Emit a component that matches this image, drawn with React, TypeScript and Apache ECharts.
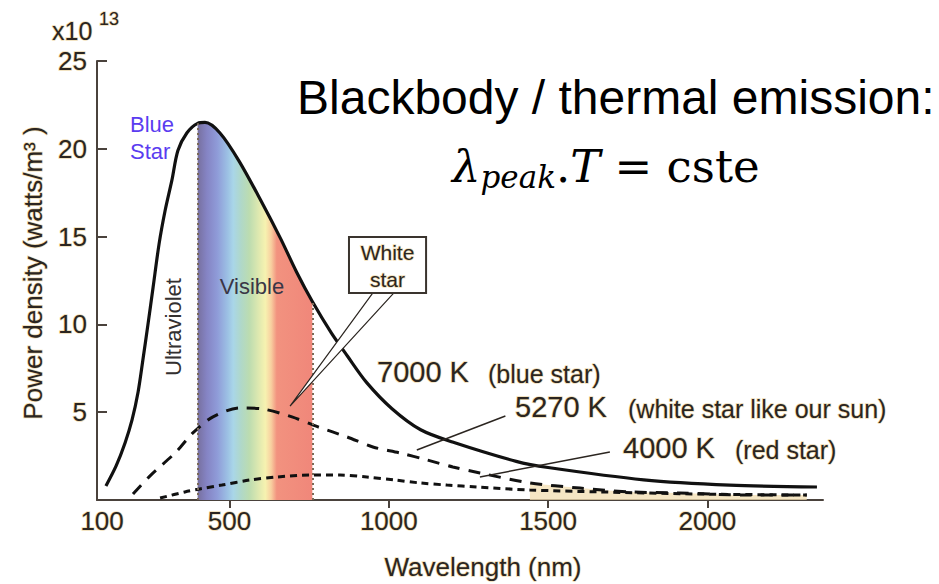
import React, { useEffect, useRef } from "react";
import * as echarts from "echarts";

// Planck-type emission curves, power density in units of 1e13 W/m^3
const wl7000 = [112, 144, 172, 194, 213, 228, 244, 260, 279, 298, 319, 338, 366, 400, 423, 470, 530, 600, 660, 710, 760, 820, 870, 930, 1010, 1100, 1200, 1400, 1500, 1800, 2070, 2344];
const pd7000 = [0.8, 1.94, 3.25, 4.56, 6.15, 7.97, 10.0, 12.1, 14.6, 16.5, 18.2, 19.9, 20.9, 21.45, 21.5, 20.9, 19.3, 17.0, 14.9, 13.0, 11.3, 9.5, 8.2, 6.7, 5.2, 4.0, 3.3, 2.2, 1.85, 1.15, 0.85, 0.74];

const wl5270 = [197, 253, 332, 385, 448, 533, 605, 696, 778, 869, 950, 1035, 1120, 1201, 1286, 1443, 1600, 1757, 1914, 2124, 2312];
const pd5270 = [0.34, 1.42, 2.73, 3.82, 4.73, 5.24, 5.18, 4.73, 4.16, 3.59, 3.02, 2.68, 2.28, 1.88, 1.54, 0.97, 0.68, 0.46, 0.4, 0.28, 0.28];

const wl4000 = [282, 360, 407, 476, 564, 649, 752, 847, 931, 1019, 1098, 1183, 1277, 1443, 1663, 1977, 2312];
const pd4000 = [0.11, 0.46, 0.63, 0.85, 1.14, 1.31, 1.42, 1.42, 1.31, 1.14, 0.97, 0.85, 0.74, 0.57, 0.46, 0.34, 0.28];

// visible band limits (nm)
const visibleRange = [400, 760];
// long-wavelength tail where the curves crowd together
const tailStart = 1443;

const xTickValues = [500, 1000, 1500, 2000];
const xLabelValues = [100, 500, 1000, 1500, 2000];
const yTickValues = [5, 10, 15, 20, 25];

const zip = (xs: number[], ys: number[]) => xs.map((x, i) => [x, ys[i]]);

const INK = "#2b2520";
const HALO = "rgba(236,214,166,0.85)";
const SANS = "'Liberation Sans', Arial, sans-serif";
const SERIF = "'DejaVu Serif', serif";

export default function App() {
  const ref = useRef<HTMLDivElement>(null);

  useEffect(() => {
    if (!ref.current) return;
    const chart = echarts.init(ref.current, null, { renderer: "svg" });

    const spectrum = zip(wl7000, pd7000).filter(
      (p) => p[0] >= visibleRange[0] && p[0] <= visibleRange[1]
    );
    const tail = zip(wl5270, pd5270).filter((p) => p[0] >= tailStart);
    const edgeTop = (nm: number) => pd7000[wl7000.indexOf(nm)];

    const axisLabelStyle = {
      color: INK,
      fontFamily: SANS,
      fontSize: 26,
      textBorderColor: HALO,
      textBorderWidth: 1.5,
      formatter: (v: number) => String(v),
    };

    const curve = {
      type: "line",
      smooth: 0.3,
      symbol: "none",
      z: 3,
    };

    chart.setOption({
      animation: false,
      backgroundColor: "#ffffff",
      grid: { left: 97, right: 116, top: 61, bottom: 84 },
      xAxis: {
        type: "value",
        min: 84,
        max: 2363,
        axisLine: { show: true, lineStyle: { color: "#4a423c", width: 2 } },
        axisTick: {
          show: true,
          customValues: xTickValues,
          length: 8,
          lineStyle: { color: "#4a423c", width: 2 },
        },
        axisLabel: { ...axisLabelStyle, customValues: xLabelValues, margin: 8 },
        splitLine: { show: false },
      },
      yAxis: {
        type: "value",
        min: 0,
        max: 25,
        interval: 5,
        axisLine: { show: true, lineStyle: { color: "#4a423c", width: 2 } },
        axisTick: {
          show: true,
          inside: true,
          length: 10,
          customValues: yTickValues,
          lineStyle: { color: "#4a423c", width: 2 },
        },
        axisLabel: { ...axisLabelStyle, customValues: yTickValues, margin: 10 },
        splitLine: { show: false },
      },
      series: [
        {
          ...curve,
          name: "visible",
          data: spectrum,
          lineStyle: { width: 0 },
          z: 1,
          areaStyle: {
            opacity: 1,
            color: new echarts.graphic.LinearGradient(0, 0, 1, 0, [
              { offset: 0, color: "#77709f" },
              { offset: 0.08, color: "#8584c4" },
              { offset: 0.17, color: "#8f9bd8" },
              { offset: 0.26, color: "#9cc0e4" },
              { offset: 0.31, color: "#a9d6e8" },
              { offset: 0.38, color: "#b0d8c8" },
              { offset: 0.45, color: "#bcdcb0" },
              { offset: 0.54, color: "#e2eab0" },
              { offset: 0.59, color: "#f6f2b0" },
              { offset: 0.64, color: "#f8d0a0" },
              { offset: 0.69, color: "#f2927f" },
              { offset: 1, color: "#f0877a" },
            ]),
          },
          markLine: {
            silent: true,
            symbol: ["none", "none"],
            label: { show: false },
            lineStyle: { type: [2, 3], width: 2, color: "#7a6a58" },
            data: visibleRange.map((nm) => [
              { coord: [nm, 0] },
              { coord: [nm, edgeTop(nm)] },
            ]),
          },
        },
        {
          ...curve,
          name: "tail",
          data: tail,
          lineStyle: { width: 0 },
          z: 1,
          areaStyle: { color: "#f1ddb0", opacity: 0.75 },
        },
        {
          ...curve,
          name: "7000 K",
          data: zip(wl7000, pd7000),
          lineStyle: { color: "#111111", width: 3.2 },
        },
        {
          ...curve,
          name: "5270 K",
          data: zip(wl5270, pd5270),
          lineStyle: { color: "#111111", width: 3, type: [12, 9] },
          markLine: {
            silent: true,
            symbol: ["none", "arrow"],
            symbolSize: [0, 13],
            label: { show: false },
            lineStyle: { type: "solid", width: 1.5, color: INK },
            data: [
              [{ coord: [1366, 4.78] }, { coord: [1088, 2.85] }],
              [{ coord: [1694, 2.73] }, { coord: [1286, 1.31] }],
            ],
          },
        },
        {
          ...curve,
          name: "4000 K",
          data: zip(wl4000, pd4000),
          lineStyle: { color: "#111111", width: 3, type: [7, 5] },
        },
      ],
    });

    // callout box and pointer placed in data space
    const px = (x: number, y: number) =>
      chart.convertToPixel({ gridIndex: 0 }, [x, y]) as number[];
    const boxA = px(875, 14.98);
    const boxB = px(1117, 11.79);
    const wedgeL = px(950, 11.79);
    const wedgeR = px(1016, 11.79);
    const wedgeTip = px(690, 5.35);

    const txt = (
      text: string,
      x: number,
      y: number,
      size: number,
      opts: any = {}
    ) => ({
      type: "text",
      z: 120,
      x,
      y,
      rotation: opts.rotation || 0,
      style: {
        text,
        fill: opts.fill || INK,
        font: `${opts.weight || "normal"} ${size}px ${opts.family || SANS}`,
        align: opts.align || "left",
        verticalAlign: "middle",
        stroke: opts.noHalo ? undefined : HALO,
        lineWidth: opts.noHalo ? 0 : 1.5,
      },
    });

    chart.setOption({
      graphic: [
        {
          type: "polygon",
          z: 110,
          shape: { points: [wedgeL, wedgeR, wedgeTip] },
          style: { fill: "#ffffff", stroke: "#2b2520", lineWidth: 1.2 },
        },
        {
          type: "rect",
          z: 110,
          shape: {
            x: boxA[0],
            y: boxA[1],
            width: boxB[0] - boxA[0],
            height: boxB[1] - boxA[1],
          },
          style: { fill: "#ffffff", stroke: "#3a342e", lineWidth: 2 },
        },
        txt("White", (boxA[0] + boxB[0]) / 2, boxA[1] + 16, 21, { align: "center" }),
        txt("star", (boxA[0] + boxB[0]) / 2, boxA[1] + 43, 21, { align: "center" }),

        txt("x10", 52, 31, 25),
        txt("13", 99, 19, 18),
        txt("Power density (watts/m³ )", 33, 273, 26, {
          align: "center",
          rotation: Math.PI / 2,
        }),
        txt("Wavelength (nm)", 483, 567, 26, { align: "center" }),

        txt("Blue", 130, 124, 22, { fill: "#5a3cf0", noHalo: true }),
        txt("Star", 130, 151, 22, { fill: "#5a3cf0", noHalo: true }),
        txt("Ultraviolet", 173, 327, 22, {
          align: "center",
          rotation: Math.PI / 2,
          noHalo: true,
          fill: "#333030",
        }),
        txt("Visible", 252, 286, 22, { align: "center", noHalo: true, fill: "#3a3646" }),

        txt("7000 K", 377, 372, 29),
        txt("(blue star)", 488, 374, 25),
        txt("5270 K", 515, 407, 29),
        txt("(white star like our sun)", 628, 409, 25),
        txt("4000 K", 623, 448, 29),
        txt("(red star)", 735, 450, 25),

        txt("Blackbody / thermal emission:", 297, 97, 48, {
          fill: "#000000",
          noHalo: true,
        }),
        {
          type: "text",
          z: 120,
          x: 452,
          y: 166,
          style: {
            text: "{l|λ}{s|peak}{m|.}{i|T}{m| = cste}",
            fill: "#000000",
            verticalAlign: "middle",
            rich: {
              l: { fontFamily: SERIF, fontStyle: "italic", fontSize: 45 },
              s: {
                fontFamily: SERIF,
                fontStyle: "italic",
                fontSize: 31,
                padding: [22, 0, 0, 0],
              },
              i: { fontFamily: SERIF, fontStyle: "italic", fontSize: 45 },
              m: { fontFamily: SERIF, fontSize: 45 },
            },
          },
        },
      ],
    });

    return () => chart.dispose();
  }, []);

  return (
    <div
      ref={ref}
      style={{ position: "fixed", left: 0, top: 0, width: 939, height: 584 }}
    />
  );
}
